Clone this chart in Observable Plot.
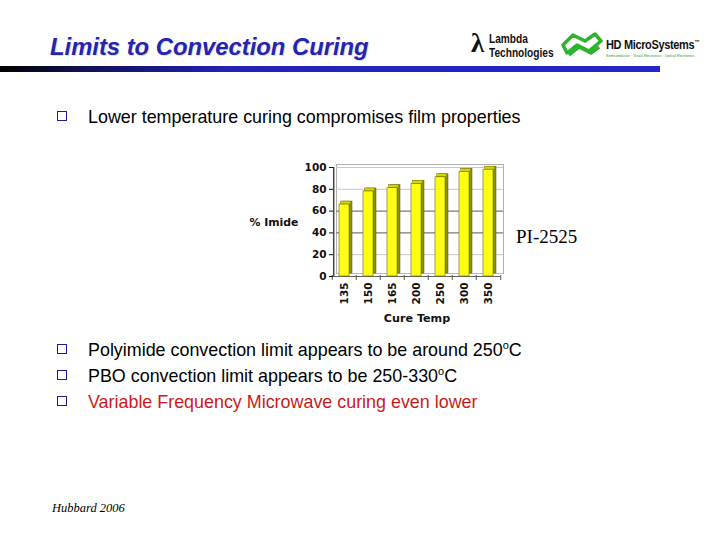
<!DOCTYPE html>
<html>
<head>
<meta charset="utf-8">
<script src="https://cdn.jsdelivr.net/npm/d3@7"></script>
<script src="https://cdn.jsdelivr.net/npm/@observablehq/plot@0.6"></script>
<style>
  body { margin: 0; background: #fff; }
  #slide { position: relative; width: 720px; height: 540px; overflow: hidden; font-family: "Liberation Sans", Arial, sans-serif; }
  .abs { position: absolute; white-space: nowrap; }
  #title { left: 50px; top: 33px; font: italic bold 23.8px "Liberation Sans", Arial, sans-serif; color: #2424b0; text-shadow: 1px 1px 1px rgba(0,0,0,0.15); }
  #rulebar { left: 0; top: 66px; width: 660px; height: 6px; background: linear-gradient(to right, #000 0%, #101050 12%, #2222b8 35%, #2626cc 100%); }
  .bullet { left: 57px; width: 8px; height: 8px; border: 1.5px solid #1c1c90; }
  .btext { left: 88px; font-size: 17.9px; line-height: 20px; color: #000; }
  .btext sup { font-size: 11px; vertical-align: 7px; line-height: 0; }
  #chart { left: 240px; top: 155px; }
  #pi { left: 516px; top: 226px; font: 19px "Liberation Serif", "Times New Roman", serif; }
  #hub { left: 52px; top: 501px; font: italic 12.5px "Liberation Serif", "Times New Roman", serif; }
</style>
</head>
<body>
<div id="slide">
  <div id="title" class="abs">Limits to Convection Curing</div>
  <div id="rulebar" class="abs"></div>

  <!-- logos approximated with text -->
  <div class="abs" style="left:471px; top:28px; font: bold 27px 'Liberation Serif', serif; color:#111;">λ</div>
  <div class="abs" style="left:489px; top:32px; font: bold 13px 'Liberation Sans', sans-serif; line-height:14px; color:#111; transform: scaleX(0.78); transform-origin: left;">Lambda<br>Technologies</div>
  <svg class="abs" style="left:559px; top:31px;" width="44" height="32" viewBox="0 0 44 32">
    <g fill="none" stroke="#2cb52c" stroke-width="3.5" stroke-linejoin="round">
      <path d="M4 14 L14 4 L26 10 L36 3 L42 10 L30 20 L18 14 L8 22 Z"/>
      <path d="M10 24 L20 16 L32 22 L40 16"/>
    </g>
  </svg>
  <div class="abs" style="left:606px; top:38px; font: bold 12.5px 'Liberation Sans', sans-serif; color:#111; letter-spacing:-0.4px; transform: scaleX(0.88); transform-origin: left;">HD MicroSystems<span style="font-size:6px; vertical-align:5px;">™</span></div>
  <div class="abs" style="left:606px; top:54px; font: 3.6px 'Liberation Sans', sans-serif; color:#2a9a2a;">Semiconductor · Visual Electronics · Optical Electronics</div>

  <div class="abs bullet" style="top:111px;"></div>
  <div class="abs btext" style="top:107px;">Lower temperature curing compromises film properties</div>

  <div id="chart" class="abs"></div>
  <div id="pi" class="abs">PI-2525</div>

  <div class="abs bullet" style="top:344px;"></div>
  <div class="abs btext" style="top:340px;">Polyimide convection limit appears to be around 250<sup>o</sup>C</div>
  <div class="abs bullet" style="top:370px;"></div>
  <div class="abs btext" style="top:366px;">PBO convection limit appears to be 250-330<sup>o</sup>C</div>
  <div class="abs bullet" style="top:396px;"></div>
  <div class="abs btext" style="top:392px; color:#cc1a1a;">Variable Frequency Microwave curing even lower</div>

  <div id="hub" class="abs">Hubbard 2006</div>
</div>
<script>
const cureTemps = ["135", "150", "165", "200", "250", "300", "350"];
const imidePct = [66, 78, 81, 85, 91, 96, 98];
const yTicks = [0, 20, 40, 60, 80, 100];
const darkGrid = [40, 60];
const lightGrid = [20, 80, 100];

const data = cureTemps.map((t, i) => ({temp: t, value: imidePct[i]}));
const step = 24.5;
const font = "'DejaVu Sans', 'Liberation Sans', Arial, sans-serif";

const chart = Plot.plot({
  width: 300,
  height: 180,
  marginLeft: 93,
  marginRight: 40,
  marginTop: 12,
  marginBottom: 59,
  style: {fontFamily: font, fontSize: "10.5px", fontWeight: "bold", color: "#111", background: "transparent"},
  x: {domain: cureTemps, paddingInner: 0.58, paddingOuter: 0.2, label: null},
  y: {domain: [0, 100], label: null},
  marks: [
    // back wall
    Plot.frame({stroke: "#b0b0b0", strokeWidth: 1, dx: 3, dy: -3}),
    Plot.ruleY(lightGrid, {stroke: "#c8c8c8", strokeWidth: 1, dx: 3}),
    Plot.ruleY(darkGrid, {stroke: "#7a7a7a", strokeWidth: 1.3, dx: 3}),
    // floor
    Plot.ruleY([0], {stroke: "#666", strokeWidth: 1}),
    Plot.ruleY([0], {stroke: "#bbb", strokeWidth: 1, dx: 3, dy: -3}),
    // left axis line
    Plot.ruleX([0], {x: () => cureTemps[0], y1: 0, y2: 100, dx: -step * 0.21 - 10.3 / 2 - 0.5, stroke: "#444", strokeWidth: 1.5}),
    // bar side / depth
    Plot.rectY(data, {x: "temp", y: "value", fill: "#8f8f00", stroke: "#5a5a00", strokeWidth: 0.5, dx: 3, dy: -3}),
    // bar top cap
    Plot.rectY(data, {x: "temp", y1: "value", y2: "value", insetTop: -3, dx: 1.5, fill: "#d4d400", stroke: "#6a6a00", strokeWidth: 0.4}),
    // bar front
    Plot.rectY(data, {x: "temp", y: "value", fill: "#ffff10", stroke: "#6a6a00", strokeWidth: 0.6}),
    // x tick marks between categories
    Plot.ruleX(cureTemps, {x: d => d, y1: 0, y2: 0, insetTop: -1, insetBottom: -4, dx: -step / 2, stroke: "#555"}),
    Plot.ruleX([cureTemps[cureTemps.length - 1]], {x: d => d, y1: 0, y2: 0, insetTop: -1, insetBottom: -4, dx: step / 2, stroke: "#555"}),
    Plot.axisY({ticks: yTicks, tickSize: 4, tickPadding: 3, fontSize: 10.5, fontWeight: "bold", label: null}),
    Plot.axisX({tickRotate: -90, tickSize: 0, tickPadding: 6, fontSize: 10.5, fontWeight: "bold", label: null}),
    Plot.text(["% Imide"], {frameAnchor: "left", dx: -35, textAnchor: "end", fontSize: 10.9, fontWeight: "bold"}),
    Plot.text(["Cure Temp"], {frameAnchor: "bottom", dy: 45, fontSize: 11.2, fontWeight: "bold"})
  ]
});
document.getElementById("chart").appendChild(chart);
</script>
</body>
</html>
